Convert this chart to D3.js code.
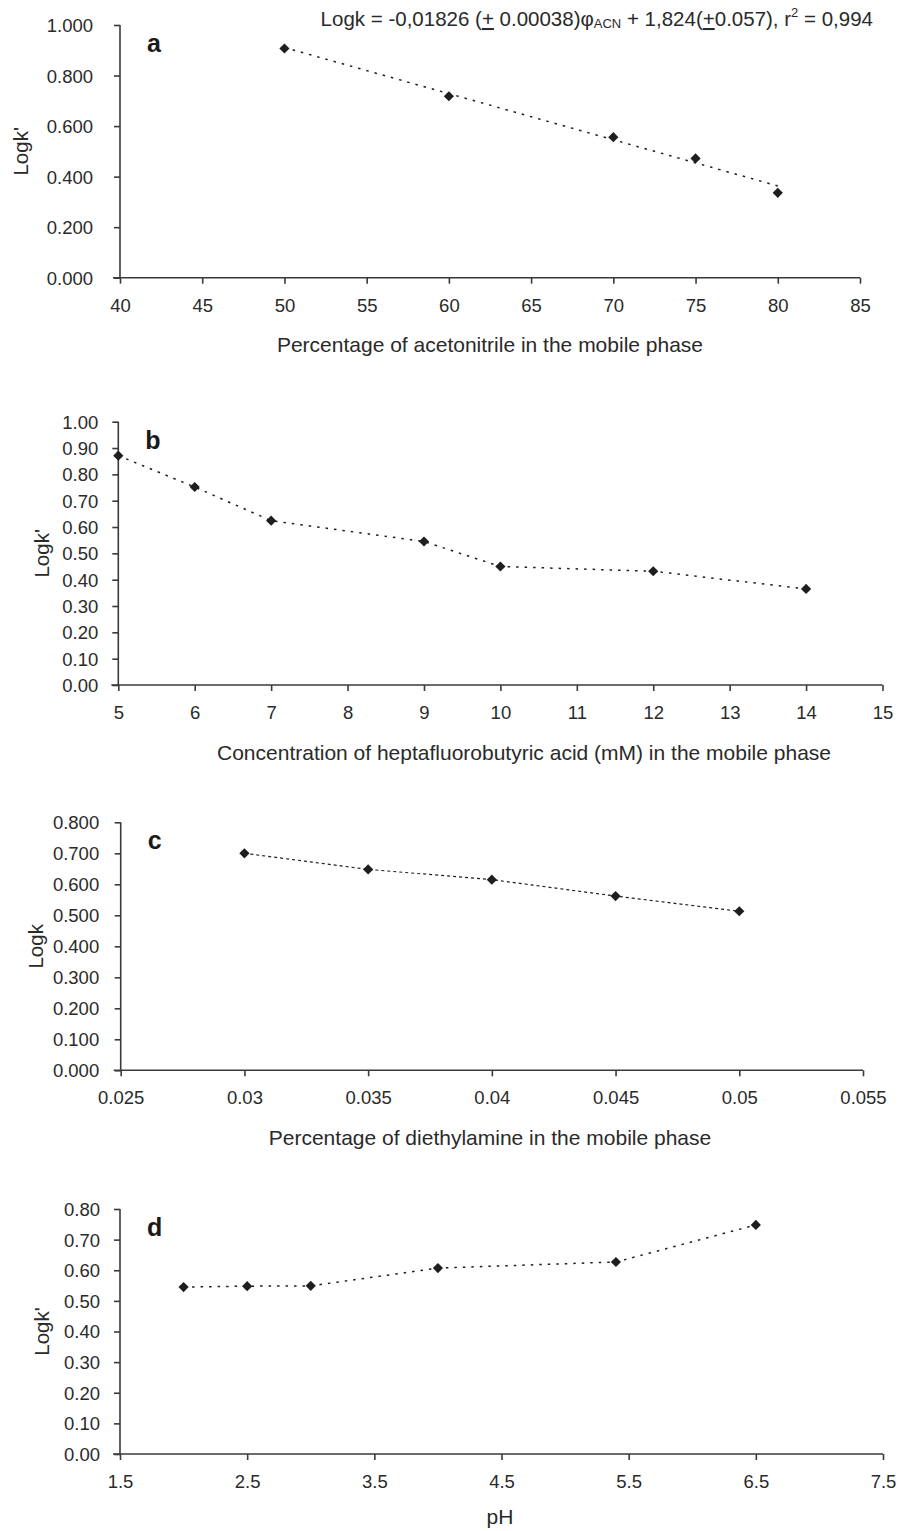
<!DOCTYPE html>
<html><head><meta charset="utf-8">
<script src="https://cdn.jsdelivr.net/npm/d3@7"></script>
<style>
html,body{margin:0;padding:0;background:#fff;}
svg{display:block;font-family:"Liberation Sans",Arial,sans-serif;}
</style></head>
<body>
<svg id="chart" width="912" height="1531"></svg>
<script>
// ---- data ----
const aX = [50, 60, 70, 75, 80];
const aY = [0.907, 0.718, 0.556, 0.472, 0.336];
const aFitSlope = -0.01826, aFitIntercept = 1.824;
const aTicksX = [40, 45, 50, 55, 60, 65, 70, 75, 80, 85];
const aTicksY = [0, 0.2, 0.4, 0.6, 0.8, 1.0];

const bX = [5, 6, 7, 9, 10, 12, 14];
const bY = [0.871, 0.752, 0.624, 0.545, 0.450, 0.432, 0.365];
const bTicksX = [5, 6, 7, 8, 9, 10, 11, 12, 13, 14, 15];
const bTicksY = [0, 0.1, 0.2, 0.3, 0.4, 0.5, 0.6, 0.7, 0.8, 0.9, 1.0];

const cX = [0.030, 0.035, 0.040, 0.045, 0.050];
const cY = [0.700, 0.648, 0.615, 0.562, 0.513];
const cTicksX = [0.025, 0.03, 0.035, 0.04, 0.045, 0.05, 0.055];
const cTickLabelsX = ["0.025", "0.03", "0.035", "0.04", "0.045", "0.05", "0.055"];
const cTicksY = [0, 0.1, 0.2, 0.3, 0.4, 0.5, 0.6, 0.7, 0.8];

const dX = [2, 2.5, 3, 4, 5.4, 6.5];
const dY = [0.545, 0.548, 0.549, 0.607, 0.627, 0.748];
const dTicksX = [1.5, 2.5, 3.5, 4.5, 5.5, 6.5, 7.5];
const dTicksY = [0, 0.1, 0.2, 0.3, 0.4, 0.5, 0.6, 0.7, 0.8];

const svg = d3.select("#chart");
const AX = "#3a3a3a", TXT = "#2a2a2a", MK = "#1e1e1e";

function panel(o) {
  const x = d3.scaleLinear().domain(o.xd).range([o.l, o.r]);
  const y = d3.scaleLinear().domain(o.yd).range([o.b, o.t]);
  const g = svg.append("g");
  const xa = d3.axisBottom(x).tickValues(o.tx).tickSize(6).tickSizeOuter(0)
    .tickFormat((d, i) => o.txl ? o.txl[i] : d3.format(o.xf)(d));
  const ya = d3.axisLeft(y).tickValues(o.ty).tickSize(6).tickSizeOuter(0)
    .tickFormat(d3.format(o.yf));
  const gx = g.append("g").attr("transform", `translate(0,${o.b})`).call(xa);
  const gy = g.append("g").attr("transform", `translate(${o.l},0)`).call(ya);
  [gx, gy].forEach(a => {
    a.select(".domain").attr("stroke", AX).attr("stroke-width", 1.6);
    a.selectAll(".tick line").attr("stroke", AX).attr("stroke-width", 1.6);
    a.selectAll(".tick text").attr("fill", TXT).style("font-size", "18.5px")
      .style("font-family", "'Liberation Sans',Arial,sans-serif");
  });
  gx.select(".domain").attr("d", `M${o.l - 7},0H${o.r}`);
  gy.select(".domain").attr("d", `M0,${o.t}V${o.b}`);
  gx.selectAll(".tick text").attr("dy", null).attr("y", 34);
  gy.selectAll(".tick text").attr("x", -(o.ylg)).attr("dy", "0.35em");

  if (o.line) {
    g.append("path").datum(o.line)
      .attr("d", d3.line().x(d => x(d[0])).y(d => y(d[1])))
      .attr("fill", "none").attr("stroke", MK).attr("stroke-width", o.lw || 1.5)
      .attr("stroke-dasharray", o.dash);
  }
  const sym = d3.symbol().type(d3.symbolSquare).size(52);
  g.selectAll("path.pt").data(o.xs.map((v, i) => [v, o.ys[i]])).enter()
    .append("path").attr("class", "pt").attr("d", sym)
    .attr("transform", d => `translate(${x(d[0])},${y(d[1])}) rotate(45)`)
    .attr("fill", MK);
  g.append("text").attr("x", o.l + 27).attr("y", o.t + 27).text(o.letter)
    .attr("fill", "#1a1a1a").style("font-size", "25px").style("font-weight", "bold");
  g.append("text").attr("transform", `translate(${o.ytx},${(o.t + o.b) / 2}) rotate(-90)`)
    .attr("text-anchor", "middle").attr("dy", "0.35em").attr("fill", TXT)
    .style("font-size", "20.5px").text(o.ytitle);
  g.append("text").attr("x", o.xtc).attr("y", o.xty)
    .attr("text-anchor", "middle").attr("fill", TXT).style("font-size", "21px").text(o.xtitle);
  return {x, y, g};
}

panel({
  l: 120, r: 860, t: 25, b: 277.7, xd: [40, 85], yd: [0, 1],
  tx: aTicksX, ty: aTicksY, xf: "d", yf: ".3f", ylg: 27,
  xs: aX, ys: aY,
  line: [[aX[0], aFitSlope * aX[0] + aFitIntercept], [aX[aX.length - 1], aFitSlope * aX[aX.length - 1] + aFitIntercept]],
  dash: "2.5,6", letter: "a", ytitle: "Logk'", ytx: 21,
  xtitle: "Percentage of acetonitrile in the mobile phase", xtc: 490, xty: 352
});
const eq = svg.append("text").attr("x", 873).attr("y", 26).attr("text-anchor", "end")
  .attr("fill", TXT).style("font-size", "20.5px");
eq.append("tspan").text("Logk = -0,01826 (");
eq.append("tspan").text("+").style("text-decoration", "underline");
eq.append("tspan").text(" 0.00038)φ");
eq.append("tspan").text("ACN").style("font-size", "13px").attr("dy", 2);
eq.append("tspan").text(" + 1,824(").attr("dy", -2);
eq.append("tspan").text("+").style("text-decoration", "underline");
eq.append("tspan").text("0.057), r");
eq.append("tspan").text("2").style("font-size", "13px").attr("dy", -9);
eq.append("tspan").text(" = 0,994").attr("dy", 9);

panel({
  l: 118.3, r: 882.5, t: 421.7, b: 685, xd: [5, 15], yd: [0, 1],
  tx: bTicksX, ty: bTicksY, xf: "d", yf: ".2f", ylg: 20,
  xs: bX, ys: bY, line: bX.map((v, i) => [v, bY[i]]),
  dash: "2.5,6", letter: "b", ytitle: "Logk'", ytx: 42,
  xtitle: "Concentration of heptafluorobutyric acid (mM) in the mobile phase", xtc: 524, xty: 760
});

panel({
  l: 120.7, r: 863, t: 822.3, b: 1070.3, xd: [0.025, 0.055], yd: [0, 0.8],
  tx: cTicksX, txl: cTickLabelsX, ty: cTicksY, yf: ".3f", ylg: 21.5,
  xs: cX, ys: cY, line: cX.map((v, i) => [v, cY[i]]),
  dash: "3,3", lw: 1.2, letter: "c", ytitle: "Logk", ytx: 36,
  xtitle: "Percentage of diethylamine in the mobile phase", xtc: 490, xty: 1145
});

panel({
  l: 120, r: 883, t: 1209, b: 1454, xd: [1.5, 7.5], yd: [0, 0.8],
  tx: dTicksX, ty: dTicksY, xf: ".1f", yf: ".2f", ylg: 20,
  xs: dX, ys: dY, line: dX.map((v, i) => [v, dY[i]]),
  dash: "2.5,6", letter: "d", ytitle: "Logk'", ytx: 42,
  xtitle: "pH", xtc: 500, xty: 1524
});
</script>
</body></html>
